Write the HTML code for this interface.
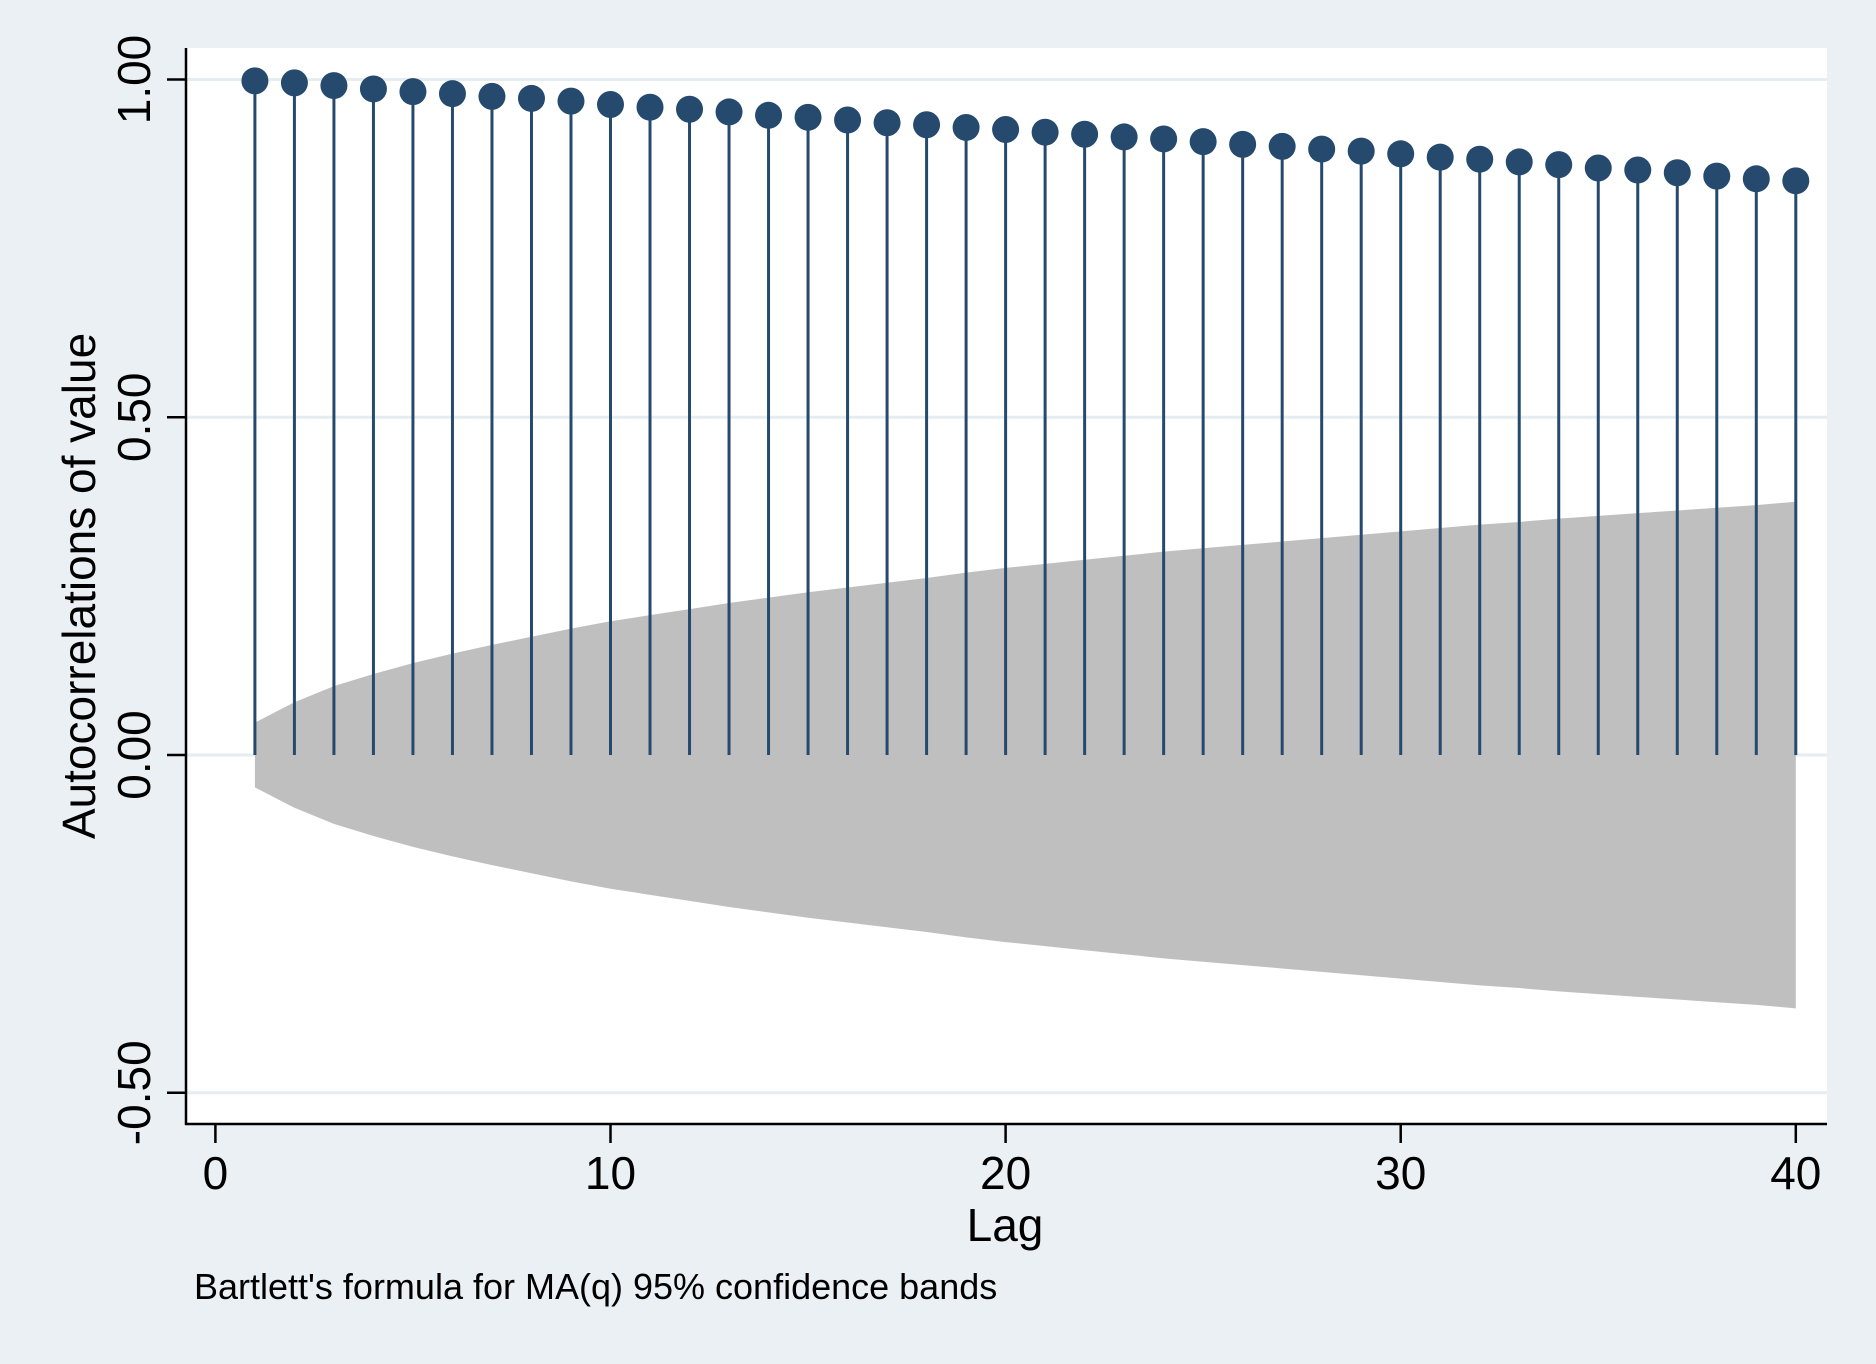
<!DOCTYPE html>
<html><head><meta charset="utf-8"><style>
html,body{margin:0;padding:0;background:#eaf0f3;}
svg{display:block;font-family:"Liberation Sans",Arial,sans-serif;}
</style></head><body>
<svg id="chart" width="1876" height="1364" viewBox="0 0 1876 1364" xmlns="http://www.w3.org/2000/svg">
<rect x="0" y="0" width="1876" height="1364" fill="#eaf0f3"/>
<rect x="186" y="48" width="1641" height="1076" fill="#ffffff"/>
<g id="grid"></g>
<g id="band"></g>
<g id="marks"></g>
<g id="axes"></g>
<text x="95" y="586" font-size="46" text-anchor="middle" transform="rotate(-90 95 586)">Autocorrelations of value</text>
<text x="1005" y="1241" font-size="46" text-anchor="middle">Lag</text>
<text x="194" y="1299" font-size="36">Bartlett's formula for MA(q) 95% confidence bands</text>
</svg>
<script>
const lags = [1,2,3,4,5,6,7,8,9,10,11,12,13,14,15,16,17,18,19,20,21,22,23,24,25,26,27,28,29,30,31,32,33,34,35,36,37,38,39,40];
const acf = [0.998,0.995,0.991,0.986,0.982,0.979,0.975,0.972,0.968,0.963,0.959,0.956,0.952,0.947,0.944,0.940,0.936,0.933,0.929,0.926,0.922,0.919,0.915,0.912,0.908,0.904,0.901,0.897,0.894,0.890,0.885,0.882,0.878,0.874,0.869,0.866,0.862,0.857,0.853,0.850];
const band = [0.048,0.078,0.102,0.120,0.136,0.150,0.163,0.175,0.187,0.198,0.207,0.216,0.225,0.233,0.241,0.248,0.255,0.262,0.270,0.277,0.283,0.289,0.295,0.301,0.306,0.311,0.316,0.321,0.326,0.331,0.336,0.341,0.345,0.350,0.354,0.358,0.362,0.366,0.370,0.375];
const yTicks = [1.0,0.5,0.0,-0.5];
const yTickLabels = ["1.00","0.50","0.00","-0.50"];
const xTicks = [0,10,20,30,40];
const xTickLabels = ["0","10","20","30","40"];

const NS="http://www.w3.org/2000/svg";
function X(k){return 215.4+k*39.51;}
function Y(v){return 755-v*675.5;}
function mk(tag,attrs,parent){const e=document.createElementNS(NS,tag);for(const k in attrs)e.setAttribute(k,attrs[k]);parent.appendChild(e);return e;}
const grid=document.getElementById('grid'),bandG=document.getElementById('band'),marks=document.getElementById('marks'),axes=document.getElementById('axes');

yTicks.forEach((v,i)=>{
  const g=mk('line',{x1:186,x2:1827,y1:Y(v),y2:Y(v),stroke:'#e6edf1','stroke-width':3},grid);
  
  
  const t=mk('line',{x1:167,x2:186,y1:Y(v),y2:Y(v),stroke:'#000','stroke-width':2.5},axes);
  
  
  const lx=150,ly=Y(v);
  const l=mk('text',{x:lx,y:ly,'font-size':46,'text-anchor':'middle',transform:`rotate(-90 ${lx} ${ly})`},axes);
  l.textContent=yTickLabels[i];
  
  
});

let pts=[];
lags.forEach((k,i)=>pts.push(X(k)+','+Y(band[i])));
for(let i=lags.length-1;i>=0;i--)pts.push(X(lags[i])+','+Y(-band[i]));
const poly=mk('polygon',{points:pts.join(' '),fill:'#bfbfbf'},bandG);



lags.forEach((k,i)=>{
  const s=mk('line',{x1:X(k),x2:X(k),y1:Y(0),y2:Y(acf[i]),stroke:'#264a6e','stroke-width':3},marks);
  
  
  const c=mk('circle',{cx:X(k),cy:Y(acf[i]),r:13.5,fill:'#264a6e'},marks);
  
  
});

const ya=mk('line',{x1:186,x2:186,y1:48,y2:1125,stroke:'#000','stroke-width':2.5},axes);


const xa=mk('line',{x1:185,x2:1827,y1:1124,y2:1124,stroke:'#000','stroke-width':2.5},axes);


xTicks.forEach((k,i)=>{
  const t=mk('line',{x1:X(k),x2:X(k),y1:1124,y2:1143,stroke:'#000','stroke-width':2.5},axes);
  
  
  const l=mk('text',{x:X(k),y:1189,'font-size':46,'text-anchor':'middle'},axes);
  l.textContent=xTickLabels[i];
  
  
});
</script>
</body></html>
